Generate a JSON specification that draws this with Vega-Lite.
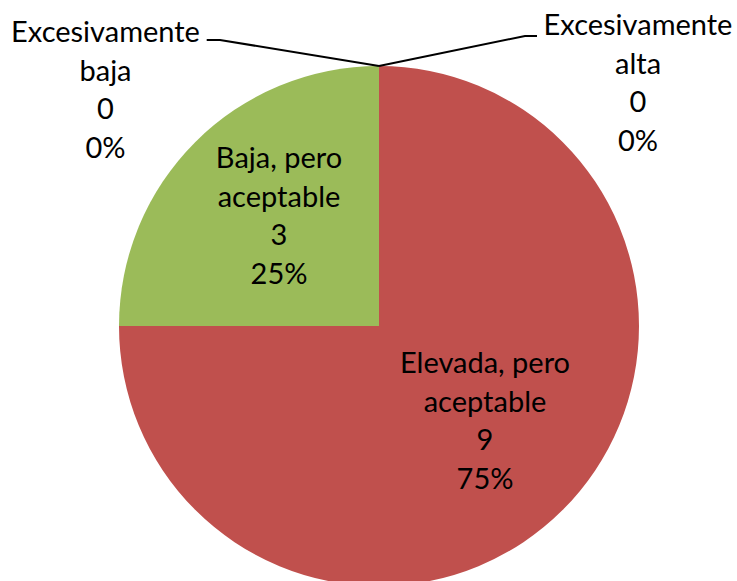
{
  "$schema": "https://vega.github.io/schema/vega-lite/v6.json",
  "width": 716,
  "height": 510,
  "autosize": {"type": "none"},
  "padding": {"left": 21, "top": 71, "right": 0, "bottom": 0},
  "background": "white",
  "config": {"view": {"stroke": null}, "font": "Lato"},
  "datasets": {
    "slices": [
      {"categoria": "Excesivamente alta", "valor": 0, "orden": 1},
      {"categoria": "Elevada, pero aceptable", "valor": 9, "orden": 2},
      {"categoria": "Baja, pero aceptable", "valor": 3, "orden": 3},
      {"categoria": "Excesivamente baja", "valor": 0, "orden": 4}
    ],
    "etiquetas": [
      {"etiqueta": "Excesivamente\nbaja\n0\n0%", "x": -1.0519, "y": 1.0923},
      {"etiqueta": "Excesivamente\nalta\n0\n0%", "x": 0.9962, "y": 1.1192},
      {"etiqueta": "Baja, pero\naceptable\n3\n25%", "x": -0.3846, "y": 0.6077},
      {"etiqueta": "Elevada, pero\naceptable\n9\n75%", "x": 0.4077, "y": -0.1808}
    ],
    "leaders": [
      {"linea": "baja", "p": 1, "x": -0.6627, "y": 1.1},
      {"linea": "baja", "p": 2, "x": -0.6115, "y": 1.1},
      {"linea": "baja", "p": 3, "x": 0, "y": 1.0},
      {"linea": "alta", "p": 1, "x": 0, "y": 1.0},
      {"linea": "alta", "p": 2, "x": 0.5615, "y": 1.1154},
      {"linea": "alta", "p": 3, "x": 0.6077, "y": 1.1154}
    ]
  },
  "layer": [
    {
      "data": {"name": "slices"},
      "mark": {"type": "arc", "outerRadius": 260},
      "encoding": {
        "theta": {"field": "valor", "type": "quantitative", "stack": true},
        "order": {"field": "orden", "type": "quantitative"},
        "color": {
          "field": "categoria",
          "type": "nominal",
          "scale": {
            "domain": ["Excesivamente alta", "Elevada, pero aceptable", "Baja, pero aceptable", "Excesivamente baja"],
            "range": ["#4F81BD", "#C0504D", "#9BBB59", "#8064A2"]
          },
          "legend": null
        }
      }
    },
    {
      "data": {"name": "leaders"},
      "mark": {"type": "line", "color": "black", "strokeWidth": 2},
      "encoding": {
        "x": {"field": "x", "type": "quantitative", "scale": {"domain": [-1.376923, 1.376923], "nice": false, "zero": false}, "axis": null},
        "y": {"field": "y", "type": "quantitative", "scale": {"domain": [-0.980769, 0.980769], "nice": false, "zero": false}, "axis": null},
        "detail": {"field": "linea"},
        "order": {"field": "p", "type": "quantitative"}
      }
    },
    {
      "data": {"name": "etiquetas"},
      "mark": {"type": "text", "fontSize": 29, "lineHeight": 38.7, "lineBreak": "\n", "color": "black", "align": "center", "baseline": "alphabetic"},
      "encoding": {
        "x": {"field": "x", "type": "quantitative", "scale": {"domain": [-1.376923, 1.376923], "nice": false, "zero": false}, "axis": null},
        "y": {"field": "y", "type": "quantitative", "scale": {"domain": [-0.980769, 0.980769], "nice": false, "zero": false}, "axis": null},
        "text": {"field": "etiqueta"}
      }
    }
  ]
}
